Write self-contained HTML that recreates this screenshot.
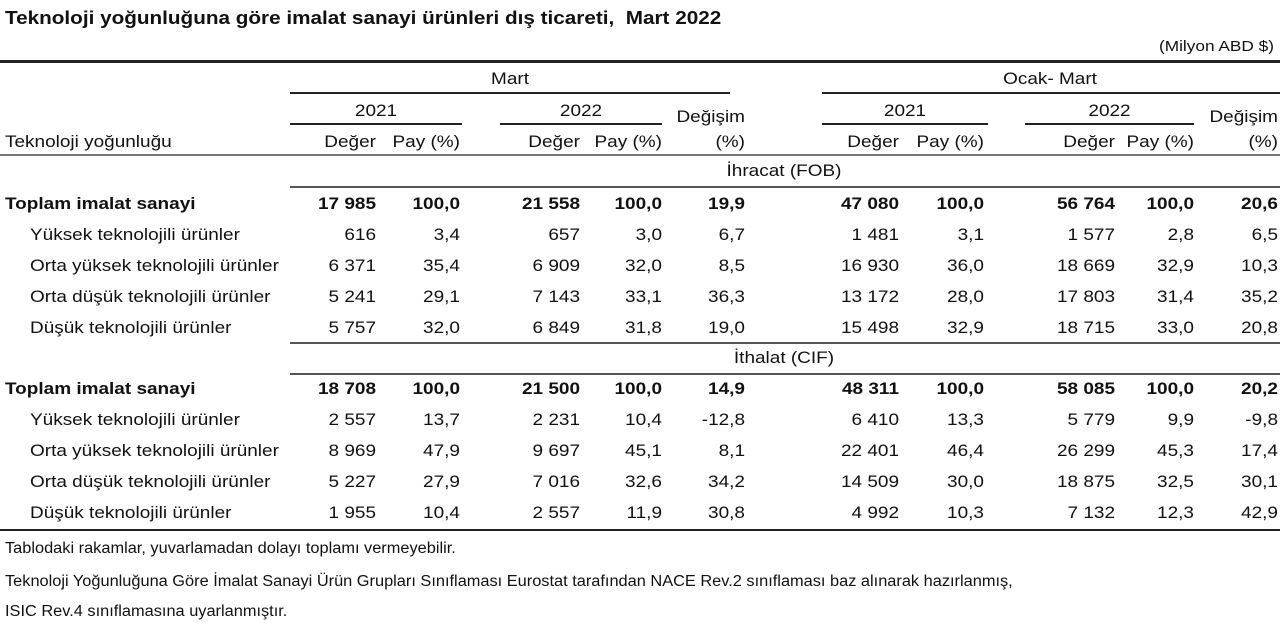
<!DOCTYPE html>
<html><head><meta charset="utf-8">
<style>
body{margin:0;width:1280px;height:627px;background:#fff;overflow:hidden;font-family:"Liberation Sans",Arial,sans-serif;color:#111;position:relative}
.t{position:absolute;white-space:nowrap;font-size:16.5px;line-height:20px;transform:scaleX(1.15);transform-origin:left center}
.r{text-align:right;transform-origin:right center}
.c{text-align:center;transform-origin:center center}
.b{font-weight:bold}
.ln{position:absolute;background:#222}
.fn{font-size:15.5px;transform:scaleX(1.055)}
</style></head><body>
<div class="t b" style="left:5px;top:8px;font-size:18px">Teknoloji yoğunluğuna göre imalat sanayi ürünleri dış ticareti,&nbsp; Mart 2022</div>
<div class="t r" style="right:6px;top:37px;width:200px;font-size:15px">(Milyon ABD $)</div>
<div class="ln" style="left:0;top:60px;width:1280px;height:3px"></div>
<div class="t c" style="left:290px;top:69px;width:440px">Mart</div>
<div class="t c" style="left:822px;top:69px;width:456px">Ocak- Mart</div>
<div class="ln" style="left:290px;top:92px;width:440px;height:2px"></div>
<div class="ln" style="left:822px;top:92px;width:458px;height:2px"></div>
<div class="t c" style="left:290px;top:101px;width:172px">2021</div>
<div class="t c" style="left:500px;top:101px;width:162px">2022</div>
<div class="t c" style="left:822px;top:101px;width:166px">2021</div>
<div class="t c" style="left:1025px;top:101px;width:169px">2022</div>
<div class="t r" style="left:645px;top:107px;width:100px">Değişim</div>
<div class="t r" style="left:1178px;top:107px;width:100px">Değişim</div>
<div class="ln" style="left:290px;top:123px;width:172px;height:2px"></div>
<div class="ln" style="left:500px;top:123px;width:162px;height:2px"></div>
<div class="ln" style="left:822px;top:123px;width:166px;height:2px"></div>
<div class="ln" style="left:1025px;top:123px;width:169px;height:2px"></div>
<div class="t" style="left:5px;top:132px">Teknoloji yoğunluğu</div>
<div id="hdr"></div>
<div class="ln" style="left:0;top:154px;width:1280px;height:2px;background:#777"></div>
<div class="t c" style="left:290px;top:161px;width:988px">İhracat (FOB)</div>
<div class="ln" style="left:290px;top:186px;width:990px;height:2px;background:#555"></div>
<div class="ln" style="left:290px;top:342px;width:990px;height:2px;background:#555"></div>
<div class="t c" style="left:290px;top:348px;width:988px">İthalat (CIF)</div>
<div class="ln" style="left:290px;top:373px;width:990px;height:2px;background:#555"></div>
<div class="ln" style="left:0;top:529px;width:1280px;height:2px"></div>
<div id="rows"></div>
<div class="t fn" style="left:5px;top:539px">Tablodaki rakamlar, yuvarlamadan dolayı toplamı vermeyebilir.</div>
<div class="t fn" style="left:5px;top:572px">Teknoloji Yoğunluğuna Göre İmalat Sanayi Ürün Grupları Sınıflaması Eurostat tarafından NACE Rev.2 sınıflaması baz alınarak hazırlanmış,</div>
<div class="t fn" style="left:5px;top:602px">ISIC Rev.4 sınıflamasına uyarlanmıştır.</div>
<script>
const labels=["Toplam imalat sanayi","Yüksek teknolojili ürünler","Orta yüksek teknolojili ürünler","Orta düşük teknolojili ürünler","Düşük teknolojili ürünler"];
const ihracat=[
["17 985","100,0","21 558","100,0","19,9","47 080","100,0","56 764","100,0","20,6"],
["616","3,4","657","3,0","6,7","1 481","3,1","1 577","2,8","6,5"],
["6 371","35,4","6 909","32,0","8,5","16 930","36,0","18 669","32,9","10,3"],
["5 241","29,1","7 143","33,1","36,3","13 172","28,0","17 803","31,4","35,2"],
["5 757","32,0","6 849","31,8","19,0","15 498","32,9","18 715","33,0","20,8"]];
const ithalat=[
["18 708","100,0","21 500","100,0","14,9","48 311","100,0","58 085","100,0","20,2"],
["2 557","13,7","2 231","10,4","-12,8","6 410","13,3","5 779","9,9","-9,8"],
["8 969","47,9","9 697","45,1","8,1","22 401","46,4","26 299","45,3","17,4"],
["5 227","27,9","7 016","32,6","34,2","14 509","30,0","18 875","32,5","30,1"],
["1 955","10,4","2 557","11,9","30,8","4 992","10,3","7 132","12,3","42,9"]];
const headers=["Değer","Pay (%)","Değer","Pay (%)","(%)","Değer","Pay (%)","Değer","Pay (%)","(%)"];
const colRight=[376,460,580,662,745,899,984,1115,1194,1278];
function put(parent,txt,right,top,bold,name){
  const d=document.createElement('div');
  d.className='t r'+(bold?' b':'');
  d.style.left=(right-150)+'px';d.style.width='150px';d.style.top=top+'px';
  d.textContent=txt;
  
  
  parent.appendChild(d);
}
const hdr=document.getElementById('hdr');
headers.forEach((h,i)=>put(hdr,h,colRight[i],132,false,'column-header'));
const rows=document.getElementById('rows');
function section(data,y0){
  data.forEach((row,ri)=>{
    const top=y0+ri*31;
    const l=document.createElement('div');
    l.className='t'+(ri==0?' b':'');
    l.style.left=(ri==0?5:30)+'px';l.style.top=top+'px';
    l.textContent=labels[ri];
    
    
    rows.appendChild(l);
    row.forEach((v,ci)=>put(rows,v,colRight[ci],top,ri==0,'cell-value'));
  });
}
section(ihracat,194);
section(ithalat,379);
</script>
</body></html>
